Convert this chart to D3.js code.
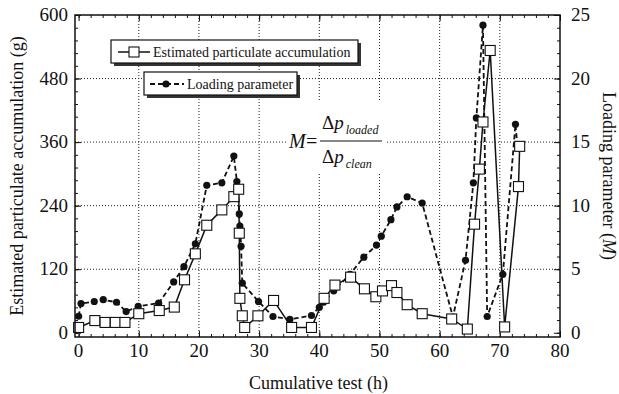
<!DOCTYPE html>
<html>
<head>
<meta charset="utf-8">
<script src="https://cdn.jsdelivr.net/npm/d3@7"></script>
<style>
  body { margin: 0; background: #fff; }
</style>
</head>
<body>
<div id="chart"></div>
<script>
// estimated particulate accumulation (g), left axis
const accumHours = [0, 2.7, 4.4, 6.1, 7.7, 10, 13.4, 15.9, 17.6, 19.4, 21.3, 23.8, 25.8, 26.6, 26.7, 26.8,
  27.2, 27.6, 29.8, 32.4, 35.4, 38.7, 40.8, 42.6, 45.2, 47.5, 49.4, 50.5, 52.0, 52.9, 54.6, 57.1,
  62.0, 64.6, 65.8, 66.6, 67.2, 68.4, 70.8, 73.1, 73.3];
const accumGrams = [10, 23, 19.5, 19.5, 19.5, 36, 42, 48.5, 100, 149, 203, 232, 257, 271, 188, 65,
  32, 10, 32, 61, 10, 10, 65, 90, 105, 83, 68, 79, 89, 76, 53, 36,
  26, 7, 205, 309, 398, 533, 11, 276, 352];

// loading parameter M, right axis
const loadHours = [0, 0.4, 2.6, 4.1, 6.3, 7.9, 9.9, 13.3, 15.8, 17.5, 19.4, 21.3, 23.8, 25.8, 26.3, 26.5,
  26.7, 26.8, 26.9, 27.0, 27.2, 29.9, 32.3, 35.1, 38.7, 40.0, 40.7, 42.4, 45.1, 47.4, 49.5, 50.3,
  51.9, 52.9, 54.6, 57.1, 62.2, 64.3, 65.6, 66.1, 67.2, 67.9, 70.5, 72.6, 72.9];
const loadM = [1.3, 2.3, 2.46, 2.6, 2.4, 1.67, 2.07, 2.33, 4.0, 5.2, 7.0, 11.6, 11.8, 13.9, 11.9, 11.2,
  9.35, 8.4, 7.7, 6.8, 3.9, 2.46, 1.28, 1.05, 1.36, 2.0, 2.4, 3.3, 4.6, 5.95, 6.9, 7.6,
  8.9, 9.9, 10.7, 10.2, 1.23, 5.7, 11.8, 16.9, 24.2, 1.28, 4.6, 16.4, 14.8];

const xTicks = [0, 10, 20, 30, 40, 50, 60, 70, 80];
const leftTicks = [0, 120, 240, 360, 480, 600];
const rightTicks = [0, 5, 10, 15, 20, 25];

const width = 619, height = 394;
const margin = { top: 15, right: 59, bottom: 57, left: 75 };
const serif = "'Liberation Serif', 'Times New Roman', Times, 'DejaVu Serif', serif";

const svg = d3.select("#chart").append("svg")
  .attr("width", width)
  .attr("height", height)
  .attr("font-family", serif)
  .style("font-family", serif);

const x = d3.scaleLinear().domain([-0.6, 80]).range([margin.left, width - margin.right]);
const yL = d3.scaleLinear().domain([-8, 600]).range([height - margin.bottom, margin.top]);
const yR = d3.scaleLinear().domain([-8 / 24, 25]).range([height - margin.bottom, margin.top]);

const x0 = margin.left, x1 = width - margin.right;
const y0 = height - margin.bottom, y1 = margin.top;

// dotted grid
const grid = svg.append("g").attr("stroke", "#222").attr("stroke-width", 1).attr("stroke-dasharray", "1,2");
grid.selectAll(".vg").data(xTicks.filter(d => d > 0 && d < 80)).join("line")
  .attr("x1", d => x(d)).attr("x2", d => x(d)).attr("y1", y0).attr("y2", y1);
grid.selectAll(".hg").data(leftTicks.filter(d => d > 0 && d < 600)).join("line")
  .attr("x1", x0).attr("x2", x1).attr("y1", d => yL(d)).attr("y2", d => yL(d));

// axes with inward ticks, labels drawn separately
function inner(axis) {
  return g => {
    g.call(axis);
    g.select(".domain").remove();
    g.selectAll("text").remove();
    g.selectAll(".tick line").attr("stroke", "#111").attr("stroke-width", 1);
  };
}
svg.append("g").attr("transform", `translate(0,${y0})`)
  .call(inner(d3.axisTop(x).tickValues(d3.range(0, 81, 2)).tickSize(3)));
svg.append("g").attr("transform", `translate(0,${y0})`)
  .call(inner(d3.axisTop(x).tickValues(xTicks).tickSize(6)));
svg.append("g").attr("transform", `translate(0,${y1})`)
  .call(inner(d3.axisBottom(x).tickValues(d3.range(0, 81, 2)).tickSize(3)));
svg.append("g").attr("transform", `translate(0,${y1})`)
  .call(inner(d3.axisBottom(x).tickValues(xTicks).tickSize(6)));
svg.append("g").attr("transform", `translate(${x0},0)`)
  .call(inner(d3.axisRight(yL).tickValues(d3.range(0, 601, 24)).tickSize(3)));
svg.append("g").attr("transform", `translate(${x0},0)`)
  .call(inner(d3.axisRight(yL).tickValues(leftTicks).tickSize(6)));
svg.append("g").attr("transform", `translate(${x1},0)`)
  .call(inner(d3.axisLeft(yR).tickValues(d3.range(0, 26, 1)).tickSize(3)));
svg.append("g").attr("transform", `translate(${x1},0)`)
  .call(inner(d3.axisLeft(yR).tickValues(rightTicks).tickSize(6)));

// tick labels
svg.append("g").selectAll("text").data(xTicks).join("text")
  .attr("x", d => x(d)).attr("y", y0 + 20).attr("text-anchor", "middle")
  .attr("font-size", 19).attr("fill", "#111").text(d => d);
svg.append("g").selectAll("text").data(leftTicks).join("text")
  .attr("x", x0 - 7).attr("y", d => yL(d) + 6).attr("text-anchor", "end")
  .attr("font-size", 19).attr("fill", "#111").text(d => d);
svg.append("g").selectAll("text").data(rightTicks).join("text")
  .attr("x", x1 + 11).attr("y", d => yR(d) + 6).attr("text-anchor", "start")
  .attr("font-size", 19).attr("fill", "#111").text(d => d);

// formula box (white, covers grid)
svg.append("rect").attr("x", 287).attr("y", 100).attr("width", 98).attr("height", 72).attr("fill", "#fff");
const f = svg.append("g").attr("fill", "#111");
f.append("text").attr("x", 289).attr("y", 148).attr("font-size", 20).attr("font-style", "italic").text("M");
f.append("text").attr("x", 306).attr("y", 148).attr("font-size", 20).text("=");
f.append("line").attr("x1", 320).attr("x2", 382).attr("y1", 141).attr("y2", 141)
  .attr("stroke", "#111").attr("stroke-width", 1.2);
const top1 = f.append("text").attr("x", 322).attr("y", 129).attr("font-size", 19);
top1.append("tspan").text("Δ");
top1.append("tspan").attr("font-style", "italic").text("p");
top1.append("tspan").attr("font-style", "italic").attr("font-size", 12).attr("dx", 2).attr("dy", 5).text("loaded");
const bot1 = f.append("text").attr("x", 322).attr("y", 163).attr("font-size", 19);
bot1.append("tspan").text("Δ");
bot1.append("tspan").attr("font-style", "italic").text("p");
bot1.append("tspan").attr("font-style", "italic").attr("font-size", 12).attr("dx", 2).attr("dy", 5).text("clean");

// series
const lineM = d3.line().x((d, i) => x(loadHours[i])).y(d => yR(d));
const lineA = d3.line().x((d, i) => x(accumHours[i])).y(d => yL(d));

svg.append("path").datum(loadM)
  .attr("fill", "none").attr("stroke", "#111").attr("stroke-width", 1.8)
  .attr("stroke-dasharray", "5,3").attr("d", lineM);
svg.append("g").selectAll("circle").data(loadM).join("circle")
  .attr("cx", (d, i) => x(loadHours[i])).attr("cy", d => yR(d)).attr("r", 3.6).attr("fill", "#111");

svg.append("path").datum(accumGrams)
  .attr("fill", "none").attr("stroke", "#111").attr("stroke-width", 1.5).attr("d", lineA);
svg.append("g").selectAll("rect").data(accumGrams).join("rect")
  .attr("x", (d, i) => x(accumHours[i]) - 5).attr("y", d => yL(d) - 5)
  .attr("width", 10).attr("height", 10)
  .attr("fill", "#fff").attr("stroke", "#111").attr("stroke-width", 1.1);

// frame
svg.append("rect").attr("x", x0).attr("y", y1).attr("width", x1 - x0).attr("height", y0 - y1)
  .attr("fill", "none").attr("stroke", "#111").attr("stroke-width", 1.5);

// legends
function legendBox(bx, by, bw, bh) {
  svg.append("rect").attr("x", bx + 3).attr("y", by + 3).attr("width", bw).attr("height", bh).attr("fill", "#333");
  svg.append("rect").attr("x", bx).attr("y", by).attr("width", bw).attr("height", bh)
    .attr("fill", "#fff").attr("stroke", "#111").attr("stroke-width", 1.2);
}
legendBox(111, 40, 247, 23);
svg.append("line").attr("x1", 118).attr("x2", 150).attr("y1", 52).attr("y2", 52)
  .attr("stroke", "#111").attr("stroke-width", 1.5);
svg.append("rect").attr("x", 129).attr("y", 47).attr("width", 10).attr("height", 10)
  .attr("fill", "#fff").attr("stroke", "#111").attr("stroke-width", 1.1);
svg.append("text").attr("x", 153).attr("y", 57).attr("font-size", 14).attr("fill", "#111")
  .text("Estimated particulate accumulation");

legendBox(144, 72, 153, 23);
svg.append("line").attr("x1", 150).attr("x2", 184).attr("y1", 84).attr("y2", 84)
  .attr("stroke", "#111").attr("stroke-width", 1.8).attr("stroke-dasharray", "5,3");
svg.append("circle").attr("cx", 166).attr("cy", 84).attr("r", 3.6).attr("fill", "#111");
svg.append("text").attr("x", 187).attr("y", 89).attr("font-size", 14).attr("fill", "#111")
  .text("Loading parameter");

// axis titles
svg.append("text").attr("transform", `translate(23,${(y0 + y1) / 2}) rotate(-90)`)
  .attr("text-anchor", "middle").attr("font-size", 18).attr("fill", "#111")
  .text("Estimated particulate accumulation (g)");
const rt = svg.append("text").attr("transform", `translate(603,${(y0 + y1) / 2}) rotate(90)`)
  .attr("text-anchor", "middle").attr("font-size", 18).attr("fill", "#111");
rt.append("tspan").text("Loading parameter (");
rt.append("tspan").attr("font-style", "italic").text("M");
rt.append("tspan").text(")");
svg.append("text").attr("x", (x0 + x1) / 2 + 1).attr("y", 389).attr("text-anchor", "middle")
  .attr("font-size", 18).attr("fill", "#111").text("Cumulative test (h)");
</script>
</body>
</html>
